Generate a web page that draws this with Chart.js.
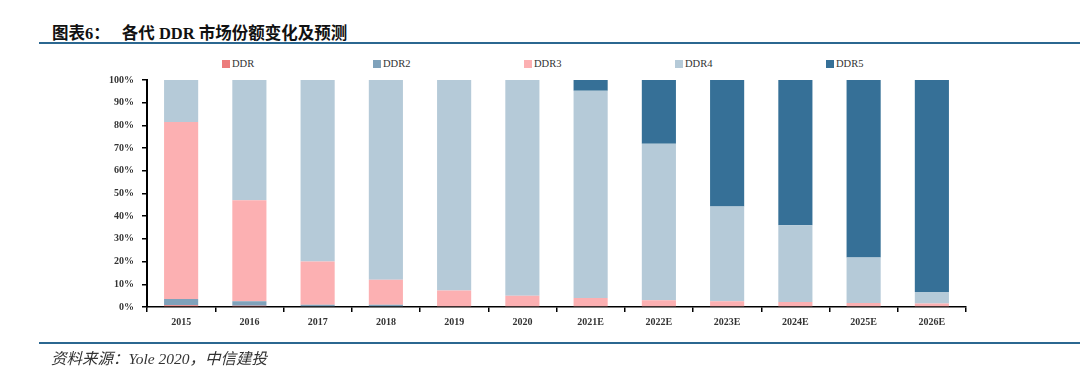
<!DOCTYPE html>
<html>
<head>
<meta charset="utf-8">
<script src="https://cdn.jsdelivr.net/npm/chart.js@4"></script>
<style>
  html, body { margin: 0; padding: 0; background: #fff; }
  #wrap { position: relative; width: 1080px; height: 389px; overflow: hidden; }
  #title { position: absolute; left: 52px; top: 20px; font: bold 16.5px "Liberation Serif", "Noto Sans CJK SC", serif; color: #111; white-space: nowrap; }
  #title .gap { display: inline-block; width: 12px; }
  #line1 { position: absolute; left: 39px; right: 0; top: 42px; height: 2px; background: #2b6790; }
  #line2 { position: absolute; left: 39px; right: 0; top: 342px; height: 2px; background: #2b6790; }
  #source { position: absolute; left: 51px; top: 346px; font: italic 15.5px "Liberation Serif", "Noto Sans CJK SC", serif; color: #333; white-space: nowrap; }
  #legend { position: absolute; left: 222px; top: 58px; display: flex; }
  .li { width: 151px; display: flex; align-items: center; font: 10.5px "Liberation Serif", serif; color: #333; }
  .li span.b { display: inline-block; width: 8px; height: 8px; margin-right: 2px; }
  canvas { position: absolute; left: 0; top: 0; }
</style>
</head>
<body>
<div id="wrap">
  <div id="title">图表6：<span class="gap"></span>各代 DDR 市场份额变化及预测</div>
  <div id="line1"></div>
  <div id="legend"></div>
  <canvas id="c" width="1080" height="389"></canvas>
  <div id="line2"></div>
  <div id="source">资料来源：Yole 2020，中信建投</div>
</div>
<script>
const categories = ['2015','2016','2017','2018','2019','2020','2021E','2022E','2023E','2024E','2025E','2026E'];
const seriesNames = ['DDR','DDR2','DDR3','DDR4','DDR5'];
const ddr  = [0.8, 0.5, 0, 0, 0, 0, 0, 0, 0, 0, 0, 0];
const ddr2 = [2.7, 2.0, 1.0, 1.0, 0, 0, 0, 0, 0, 0, 0, 0];
const ddr3 = [78, 44.5, 19, 11, 7.3, 5, 4, 3, 2.5, 2.2, 1.8, 1.5];
const ddr4 = [18.5, 53, 80, 88, 92.7, 95, 91.3, 68.9, 41.8, 33.8, 20, 5.1];
const ddr5 = [0, 0, 0, 0, 0, 0, 4.7, 28.1, 55.7, 64, 78.4, 93.4];
const yTicks = [0,10,20,30,40,50,60,70,80,90,100];

const colors = ['#ec7b7b', '#7fa2bb', '#fcb0b2', '#b5cad8', '#367097'];
const values = [ddr, ddr2, ddr3, ddr4, ddr5];

// HTML legend
const lg = document.getElementById('legend');
seriesNames.forEach((n, i) => {
  const d = document.createElement('div');
  d.className = 'li';
  d.innerHTML = '<span class="b" style="background:' + colors[i] + '"></span>' + n;
  lg.appendChild(d);
});

const tickFont = { family: '"Liberation Serif", serif', size: 10, weight: 'bold' };

new Chart(document.getElementById('c'), {
  type: 'bar',
  data: {
    labels: categories,
    datasets: seriesNames.map((n, i) => ({
      label: n,
      data: values[i],
      backgroundColor: colors[i],
      borderWidth: 0,
      barPercentage: 0.5,
      categoryPercentage: 1.0
    }))
  },
  options: {
    responsive: false,
    animation: false,
    layout: { padding: { left: 0, right: 114, top: 80, bottom: 52 } },
    plugins: { legend: { display: false }, tooltip: { enabled: false } },
    scales: {
      x: {
        stacked: true,
        offset: true,
        grid: { display: true, offset: true, drawOnChartArea: false, drawTicks: true, tickLength: 5, color: '#000', lineWidth: 1.5 },
        border: { display: true, color: '#000', width: 1.5 },
        ticks: { color: '#333', font: tickFont, padding: 4, maxRotation: 0 },
        afterFit: s => { s.height = 30; }
      },
      y: {
        stacked: true,
        min: 0,
        max: 100,
        afterBuildTicks: s => { s.ticks = yTicks.map(v => ({ value: v })); },
        grid: { display: true, drawOnChartArea: false, drawTicks: true, tickLength: 5, color: '#000', lineWidth: 1.5 },
        border: { display: true, color: '#000', width: 2 },
        ticks: { color: '#333', font: tickFont, padding: 8, callback: v => v + '%' },
        afterFit: s => { s.width = 147; }
      }
    }
  }
});
</script>
</body>
</html>
